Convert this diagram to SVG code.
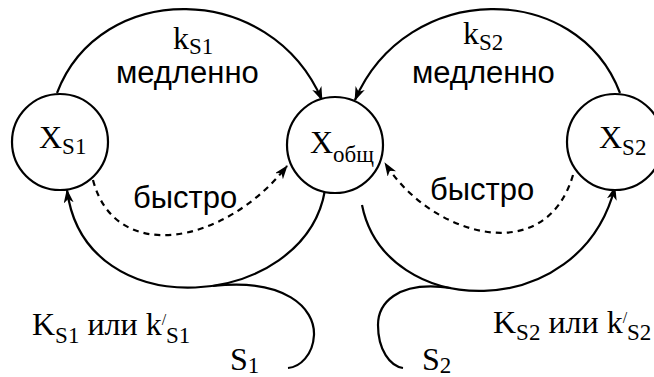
<svg xmlns="http://www.w3.org/2000/svg" width="654" height="377" viewBox="0 0 654 377">
<style>
.node{fill:#fff;stroke:#000;stroke-width:2.2}
.ln{fill:none;stroke:#000;stroke-width:2.2}
.dash{fill:none;stroke:#000;stroke-width:2.2;stroke-dasharray:6,5}
.serif{font-family:"Liberation Serif","Times New Roman",serif;font-size:32px;fill:#000}
.sub{font-size:23px}
.sans{font-family:"Liberation Sans",Arial,sans-serif;font-size:31px;fill:#000}
</style>
<defs>
<marker id="ah" viewBox="0 0 14 10" refX="13" refY="5" markerWidth="14" markerHeight="10" markerUnits="userSpaceOnUse" orient="auto">
<path d="M0,0 L14,5 L0,10 L4,5 z" fill="#000"/>
</marker>
</defs>
<g id="connectors">
<path class="ln" d="M57,93 C100,-20 270,-20 322,100" marker-end="url(#ah)"/>
<path class="ln" d="M620,93 C577,-20 407,-20 355,100" marker-end="url(#ah)"/>
<path class="ln" d="M325,190 C305,310 85,330 67,190" marker-end="url(#ah)"/>
<path class="ln" d="M362,205 C385,320 580,325 615,187" marker-end="url(#ah)"/>
<path class="ln" d="M213,286 C285,278 315,308 314,335 C313,355 300,367 288,368"/>
<path class="ln" d="M451,288 C395,280 378,305 378,325 C378,350 390,366 403,368"/>
<path class="dash" d="M93,180 C115,265 225,245 287,166" marker-end="url(#ah)"/>
<path class="dash" d="M573,175 C545,270 430,235 385,163" marker-end="url(#ah)"/>
</g>
<g id="node-xs1">
<circle class="node" cx="60" cy="142" r="48"/>
<text class="serif" x="39" y="148">X<tspan class="sub" dy="6">S1</tspan></text>
</g>
<g id="node-xobsh">
<circle class="node" cx="335" cy="145" r="48"/>
<text class="serif" x="310" y="153">X<tspan class="sub" dy="9">общ</tspan></text>
</g>
<g id="node-xs2">
<circle class="node" cx="615" cy="142" r="48"/>
<text class="serif" x="599" y="148">X<tspan class="sub" dy="7">S2</tspan></text>
</g>
<g id="labels">
<text class="serif" x="173" y="49">k<tspan class="sub" dy="5">S1</tspan></text>
<text class="sans" x="116" y="83">медленно</text>
<text class="serif" x="463" y="44">k<tspan class="sub" dy="6">S2</tspan></text>
<text class="sans" x="412" y="83">медленно</text>
<text class="sans" x="133" y="208">быстро</text>
<text class="sans" x="430" y="200">быстро</text>
<text class="serif" x="32" y="335">K<tspan class="sub" dy="8">S1</tspan><tspan dy="-8"> или k</tspan><tspan font-size="16" dy="-10">/</tspan><tspan class="sub" dy="18">S1</tspan></text>
<text class="serif" x="493" y="333">K<tspan class="sub" dy="7">S2</tspan><tspan dy="-7"> или k</tspan><tspan font-size="16" dy="-10">/</tspan><tspan class="sub" dy="17">S2</tspan></text>
<text class="serif" x="230" y="370">S<tspan class="sub" dy="3">1</tspan></text>
<text class="serif" x="422" y="370">S<tspan class="sub" dy="3">2</tspan></text>
</g>
</svg>
